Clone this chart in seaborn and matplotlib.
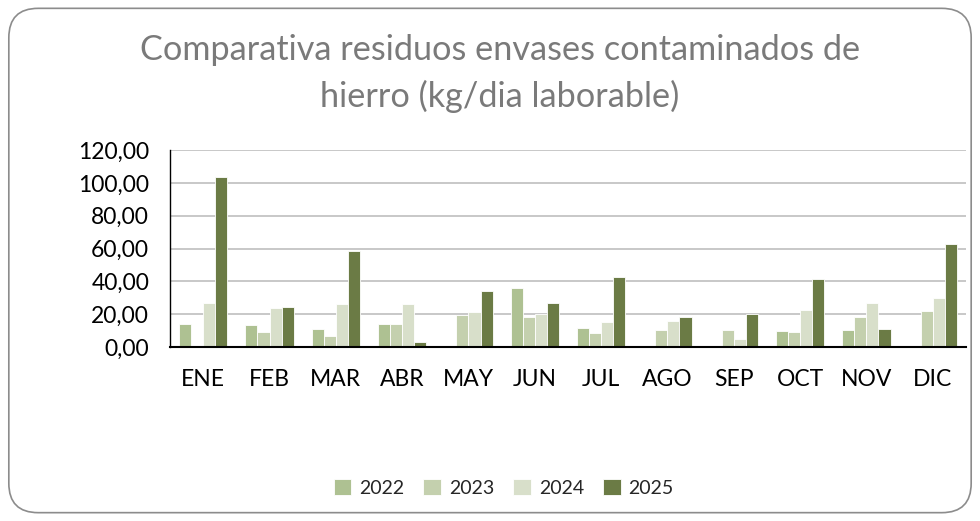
import numpy as np
import pandas as pd
import seaborn as sns
import matplotlib.pyplot as plt
from matplotlib.patches import FancyBboxPatch
from matplotlib.ticker import FuncFormatter

# datos (kg/dia laborable)
meses = ["ENE", "FEB", "MAR", "ABR", "MAY", "JUN", "JUL", "AGO", "SEP", "OCT", "NOV", "DIC"]
anios = ["2022", "2023", "2024", "2025"]
v2022 = [14.3, 13.2, 10.8, 14.0, np.nan, 35.8, 11.8, np.nan, np.nan, 9.6, 10.6, np.nan]
v2023 = [np.nan, 9.0, 6.7, 14.0, 19.3, 18.5, 8.5, 10.6, 10.6, 9.0, 18.3, 21.8]
v2024 = [27.1, 24.0, 26.2, 26.0, 21.4, 20.1, 15.3, 15.7, 4.7, 22.4, 26.7, 30.1]
v2025 = [103.7, 24.6, 58.4, 3.3, 34.0, 27.1, 42.9, 18.5, 20.1, 41.7, 10.8, 62.5]
colores = ["#b0c98a", "#c5d6a8", "#d9e3c6", "#6e843c"]

df = pd.DataFrame({"mes": meses * 4,
                   "anio": sum([[a] * 12 for a in anios], []),
                   "valor": v2022 + v2023 + v2024 + v2025})
df = df.dropna()  # meses sin dato

sns.set_style("white")
plt.rcParams["font.family"] = ["Lato", "DejaVu Sans"]

fig = plt.figure(figsize=(9.8, 5.21), dpi=100)
ax = fig.add_axes([0.1735, 0.334, 0.812, 0.378])

sns.barplot(data=df, x="mes", y="valor", hue="anio", order=meses, hue_order=anios,
            palette=colores, width=0.73, edgecolor="white", linewidth=0.6,
            errorbar=None, ax=ax, zorder=3)

ax.set_ylim(0, 120)
ax.set_yticks(range(0, 121, 20))
ax.yaxis.set_major_formatter(FuncFormatter(lambda v, p: f"{v:.2f}".replace(".", ",")))
ax.grid(axis="y", color="#bfbfbf", linewidth=1.2, zorder=0)
ax.set_axisbelow(True)
ax.set_xlabel("")
ax.set_ylabel("")
ax.tick_params(axis="both", length=0, labelsize=16.5, colors="#000000")
ax.tick_params(axis="x", pad=16)
ax.tick_params(axis="y", pad=15)
for s in ["top", "right"]:
    ax.spines[s].set_visible(False)
for s in ["left", "bottom"]:
    ax.spines[s].set_color("black")
    ax.spines[s].set_zorder(6)
ax.spines["left"].set_linewidth(1.0)
ax.spines["bottom"].set_linewidth(1.5)

handles, labels = ax.get_legend_handles_labels()
ax.legend_.remove()
fig.legend(handles, labels, loc="center", bbox_to_anchor=(0.514, 0.063), ncol=4,
           frameon=False, fontsize=14, handlelength=0.9, handleheight=0.9,
           handletextpad=0.4, columnspacing=1.0)

fig.text(0.51, 0.859, "Comparativa residuos envases contaminados de\nhierro (kg/dia laborable)",
         ha="center", va="center", fontsize=24.7, color="#7a7a7a", linespacing=1.5)

borde = FancyBboxPatch((0.009, 0.016), 0.982, 0.968, boxstyle="round,pad=0,rounding_size=0.03",
                       transform=fig.transFigure, facecolor="none", edgecolor="#8c8c8c",
                       linewidth=1.2, mutation_aspect=980 / 521)
fig.patches.append(borde)

fig.savefig("out.png", dpi=100)
